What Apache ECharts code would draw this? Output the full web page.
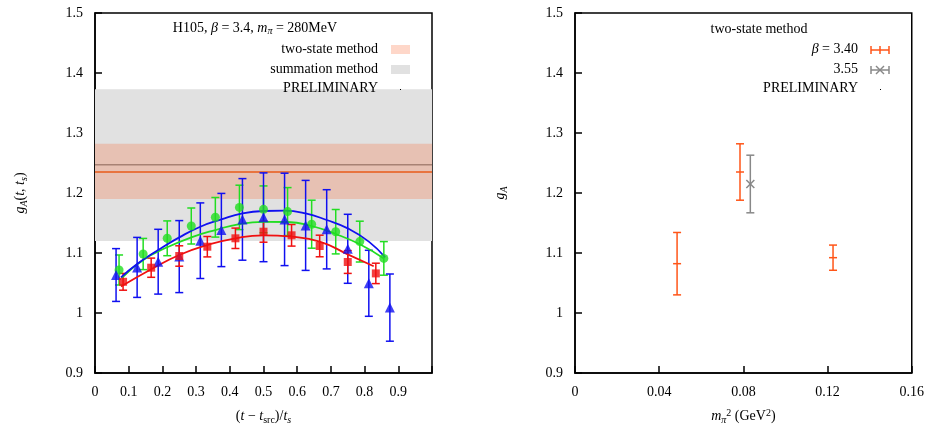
<!DOCTYPE html>
<html>
<head>
<meta charset="utf-8">
<script src="https://cdn.jsdelivr.net/npm/echarts@6/dist/echarts.min.js"></script>
<style>
html,body{margin:0;padding:0;background:#fff;}
#chart{width:927px;height:434px;}
</style>
</head>
<body>
<div id="chart"></div>
<script>
// ---------- data ----------
// left panel: g_A(t, t_s) vs (t - t_src)/t_s
const redX   = [0.0833, 0.1667, 0.25, 0.3333, 0.4167, 0.5, 0.5833, 0.6667, 0.75, 0.8333];
const redY   = [1.052, 1.0755, 1.095, 1.1105, 1.1245, 1.1355, 1.1295, 1.1117, 1.085, 1.066];
const redErr = [0.014, 0.016, 0.017, 0.017, 0.017, 0.0175, 0.018, 0.018, 0.019, 0.017];

const greenX   = [0.0714, 0.1429, 0.2143, 0.2857, 0.3571, 0.4286, 0.5, 0.5714, 0.6429, 0.7143, 0.7857, 0.8571];
const greenY   = [1.0717, 1.0983, 1.1245, 1.145, 1.1595, 1.176, 1.1728, 1.169, 1.148, 1.1355, 1.119, 1.091];
const greenErr = [0.025, 0.026, 0.029, 0.03, 0.033, 0.037, 0.039, 0.04, 0.04, 0.037, 0.034, 0.028];

const blueX   = [0.0625, 0.125, 0.1875, 0.25, 0.3125, 0.375, 0.4375, 0.5, 0.5625, 0.625, 0.6875, 0.75, 0.8125, 0.875];
const blueY   = [1.0633, 1.076, 1.0855, 1.094, 1.1205, 1.1383, 1.156, 1.1595, 1.156, 1.146, 1.1395, 1.107, 1.0495, 1.009];
const blueErr = [0.044, 0.05, 0.054, 0.06, 0.063, 0.061, 0.068, 0.074, 0.077, 0.075, 0.066, 0.0575, 0.055, 0.056];

const redFitX   = [0.077, 0.1667, 0.25, 0.3333, 0.4167, 0.5, 0.5833, 0.6667, 0.75, 0.827];
const redFitY   = [1.044, 1.073, 1.0967, 1.1133, 1.1245, 1.1295, 1.1272, 1.119, 1.0978, 1.078];
const greenFitX = [0.079, 0.1429, 0.2143, 0.2857, 0.3571, 0.4286, 0.5, 0.5714, 0.6429, 0.7143, 0.7857, 0.857];
const greenFitY = [1.058, 1.0883, 1.1095, 1.126, 1.1383, 1.1483, 1.152, 1.1517, 1.145, 1.1317, 1.1145, 1.091];
const blueFitX  = [0.077, 0.125, 0.1875, 0.25, 0.3125, 0.375, 0.4375, 0.5, 0.5625, 0.625, 0.6875, 0.75, 0.8125, 0.861];
const blueFitY  = [1.0595, 1.0817, 1.105, 1.126, 1.1438, 1.156, 1.166, 1.17, 1.1705, 1.166, 1.155, 1.141, 1.119, 1.0928];

// bands: [central, low, high]
const twoStateBand   = [1.235, 1.19, 1.282];
const summationBand  = [1.247, 1.12, 1.373];

// right panel: g_A vs m_pi^2
const b340X   = [0.0485, 0.0784, 0.1226];
const b340Y   = [1.0822, 1.235, 1.0922];
const b340Err = [0.052, 0.047, 0.021];
const b355X   = [0.0833];
const b355Y   = [1.215];
const b355Err = [0.048];

// ticks
const leftXTicks  = ['0','0.1','0.2','0.3','0.4','0.5','0.6','0.7','0.8','0.9'];
const yTicks      = ['0.9','1','1.1','1.2','1.3','1.4','1.5'];
const rightXTicks = ['0','0.04','0.08','0.12','0.16'];

// ---------- helpers ----------
const FONT = 'Liberation Serif';
const RED = '#f01010', GREEN = '#22dd22', BLUE = '#1010f0';
const ORANGE = '#ff5518', GRAY = '#888888';

function zip3(a,b,c){ return a.map((v,i)=>[v,b[i],c[i]]); }
function zip2(a,b){ return a.map((v,i)=>[v,b[i]]); }

function errSeries(idx, data, color, capW, lw, center) {
  return {
    type: 'custom', xAxisIndex: idx, yAxisIndex: idx,
    data: data, encode: {x: 0, y: 1},
    renderItem: function(params, api) {
      const x = api.value(0), y = api.value(1), e = api.value(2);
      const t = api.coord([x, y + e]), b = api.coord([x, y - e]), c = api.coord([x, y]);
      const h = capW / 2;
      const st = {stroke: color, lineWidth: lw};
      const ch = [
        {type:'line', shape:{x1:t[0],y1:t[1],x2:b[0],y2:b[1]}, style:st},
        {type:'line', shape:{x1:t[0]-h,y1:t[1],x2:t[0]+h,y2:t[1]}, style:st},
        {type:'line', shape:{x1:b[0]-h,y1:b[1],x2:b[0]+h,y2:b[1]}, style:st}
      ];
      if (center === 'dash') {
        ch.push({type:'line', shape:{x1:c[0]-h,y1:c[1],x2:c[0]+h,y2:c[1]}, style:st});
      } else if (center === 'cross') {
        ch.push({type:'line', shape:{x1:c[0]-h,y1:c[1]-h,x2:c[0]+h,y2:c[1]+h}, style:st});
        ch.push({type:'line', shape:{x1:c[0]-h,y1:c[1]+h,x2:c[0]+h,y2:c[1]-h}, style:st});
      }
      return {type:'group', children: ch};
    },
    z: 3
  };
}

function bandSeries(band, color) {
  return {
    type: 'custom', xAxisIndex: 0, yAxisIndex: 0,
    data: [[0.5, band[1], band[2]]], encode: {y: [1, 2]},
    renderItem: function(params, api) {
      const cs = params.coordSys;
      const top = api.coord([0, api.value(2)])[1];
      const bot = api.coord([0, api.value(1)])[1];
      return {type:'rect', shape:{x:cs.x, y:top, width:cs.width, height:bot-top}, style:{fill:color}};
    },
    silent: true, z: 1
  };
}
function hLineSeries(band, color) {
  return {
    type: 'custom', xAxisIndex: 0, yAxisIndex: 0,
    data: [[0.5, band[0]]], encode: {y: 1},
    renderItem: function(params, api) {
      const cs = params.coordSys;
      const y = api.coord([0, api.value(1)])[1];
      return {type:'line', shape:{x1:cs.x, y1:y, x2:cs.x+cs.width, y2:y}, style:{stroke:color, lineWidth:1.5}};
    },
    silent: true, z: 1
  };
}

const rich = {
  n:   {fontFamily: FONT, fontSize: 14, color: '#000'},
  i:   {fontFamily: FONT, fontSize: 14, fontStyle: 'italic', color: '#000'},
  sub: {fontFamily: FONT, fontSize: 10, color: '#000', padding: [7,0,0,0]},
  isub:{fontFamily: FONT, fontSize: 10, fontStyle: 'italic', color: '#000', padding: [7,0,0,0]},
  sup: {fontFamily: FONT, fontSize: 10, color: '#000', padding: [0,0,7,0]}
};

function axisCommon() {
  return {
    axisLine: {show: true, onZero: false, lineStyle: {color: '#000', width: 1.5}},
    axisTick: {show: true, inside: true, length: 7, lineStyle: {color: '#000', width: 1.5}},
    splitLine: {show: false},
    axisLabel: {fontFamily: FONT, fontSize: 14, color: '#000', margin: 12}
  };
}

const grids = [
  {left: 95, top: 13, width: 337, height: 360, show: true, borderColor: '#000', borderWidth: 1.5, backgroundColor: 'transparent'},
  {left: 575, top: 13, width: 337, height: 360, show: true, borderColor: '#000', borderWidth: 1.5, backgroundColor: 'transparent'}
];

const xAxes = [
  Object.assign(axisCommon(), {
    gridIndex: 0, type: 'value', min: 0, max: 1, interval: 0.1,
    name: '{n|(}{i|t}{n| − }{i|t}{sub|src}{n|)/}{i|t}{isub|s}',
    nameLocation: 'middle', nameGap: 35, nameTextStyle: {rich: rich},
  }),
  Object.assign(axisCommon(), {
    gridIndex: 1, type: 'value', min: 0, max: 0.16, interval: 0.04,
    name: '{i|m}{isub|π}{sup|2}{n| (GeV}{sup|2}{n|)}',
    nameLocation: 'middle', nameGap: 35, nameTextStyle: {rich: rich},
  })
];
xAxes[0].axisLabel.formatter = function(v, i){ return leftXTicks[i] !== undefined ? leftXTicks[i] : ''; };
xAxes[1].axisLabel.formatter = function(v, i){ return rightXTicks[i] !== undefined ? rightXTicks[i] : ''; };

const yAxes = [
  Object.assign(axisCommon(), {
    gridIndex: 0, type: 'value', min: 0.9, max: 1.5, interval: 0.1,
    name: '{i|g}{isub|A}{n|(}{i|t}{n|, }{i|t}{isub|s}{n|)}',
    nameLocation: 'middle', nameGap: 66, nameRotate: 90, nameTextStyle: {rich: rich}
  }),
  Object.assign(axisCommon(), {
    gridIndex: 1, type: 'value', min: 0.9, max: 1.5, interval: 0.1,
    name: '{i|g}{isub|A}',
    nameLocation: 'middle', nameGap: 66, nameRotate: 90, nameTextStyle: {rich: rich}
  })
];
yAxes[0].axisLabel.formatter = function(v, i){ return yTicks[i] || ''; };
yAxes[1].axisLabel.formatter = function(v, i){ return yTicks[i] || ''; };

const series = [
  bandSeries(summationBand, '#e1e1e1'),
  hLineSeries(summationBand, '#8a8a8a'),
  bandSeries(twoStateBand, 'rgba(248,110,60,0.28)'),
  hLineSeries(twoStateBand, '#e85a18'),
  // green
  errSeries(0, zip3(greenX, greenY, greenErr), GREEN, 8, 1.5),
  {type:'line', xAxisIndex:0, yAxisIndex:0, data: zip2(greenFitX, greenFitY), smooth: true, showSymbol:false, lineStyle:{color: GREEN, width: 1.8}, z: 4},
  {type:'scatter', xAxisIndex:0, yAxisIndex:0, data: zip2(greenX, greenY), symbol:'circle', symbolSize: 9, itemStyle:{color: GREEN}, z: 5},
  // blue
  errSeries(0, zip3(blueX, blueY, blueErr), BLUE, 8, 1.5),
  {type:'line', xAxisIndex:0, yAxisIndex:0, data: zip2(blueFitX, blueFitY), smooth: true, showSymbol:false, lineStyle:{color: BLUE, width: 1.8}, z: 4},
  {type:'scatter', xAxisIndex:0, yAxisIndex:0, data: zip2(blueX, blueY), symbol:'triangle', symbolSize: 10, itemStyle:{color: BLUE}, z: 5},
  // red
  errSeries(0, zip3(redX, redY, redErr), RED, 8, 1.5),
  {type:'line', xAxisIndex:0, yAxisIndex:0, data: zip2(redFitX, redFitY), smooth: true, showSymbol:false, lineStyle:{color: RED, width: 1.8}, z: 4},
  {type:'scatter', xAxisIndex:0, yAxisIndex:0, data: zip2(redX, redY), symbol:'rect', symbolSize: 8, itemStyle:{color: RED}, z: 5},
  // right panel
  errSeries(1, zip3(b340X, b340Y, b340Err), ORANGE, 8, 1.5, 'dash'),
  errSeries(1, zip3(b355X, b355Y, b355Err), GRAY, 8, 1.5, 'cross')
];

function txt(x, y, text, align) {
  return {type:'text', x: x, y: y, style: {text: text, rich: rich, font: '14px ' + FONT, fill: '#000', align: align || 'right', verticalAlign: 'middle'}, z: 10};
}
function seg(x1,y1,x2,y2,color){ return {type:'line', shape:{x1,y1,x2,y2}, style:{stroke: color, lineWidth: 1.5}, z: 10}; }

const graphic = [
  // left legend
  txt(255, 28, '{n|H105, }{i|β}{n| = 3.4, }{i|m}{isub|π}{n| = 280MeV}', 'center'),
  txt(378, 49, 'two-state method'),
  {type:'rect', shape:{x:391, y:45, width:19, height:9}, style:{fill:'rgba(252,110,60,0.28)'}, z:10},
  txt(378, 69, 'summation method'),
  {type:'rect', shape:{x:391, y:65, width:19, height:9}, style:{fill:'#e1e1e1'}, z:10},
  txt(378, 88, 'PRELIMINARY'),
  {type:'rect', shape:{x:400, y:89, width:1, height:1}, style:{fill:'#000'}, z:10},
  // right legend
  txt(759, 29, 'two-state method', 'center'),
  txt(858, 49, '{i|β}{n| = 3.40}'),
  seg(871, 50, 889, 50, ORANGE), seg(871, 46, 871, 54, ORANGE), seg(889, 46, 889, 54, ORANGE), seg(880, 46, 880, 54, ORANGE),
  txt(858, 69, '3.55'),
  seg(871, 70, 889, 70, GRAY), seg(871, 66, 871, 74, GRAY), seg(889, 66, 889, 74, GRAY),
  seg(876, 66, 884, 74, GRAY), seg(876, 74, 884, 66, GRAY),
  txt(858, 88, 'PRELIMINARY'),
  {type:'rect', shape:{x:880, y:89, width:1, height:1}, style:{fill:'#000'}, z:10}
];

const chart = echarts.init(document.getElementById('chart'), null, {renderer: 'canvas'});
chart.setOption({
  animation: false,
  backgroundColor: '#fff',
  textStyle: {fontFamily: FONT},
  grid: grids,
  xAxis: xAxes,
  yAxis: yAxes,
  series: series,
  graphic: graphic
});
</script>
</body>
</html>
